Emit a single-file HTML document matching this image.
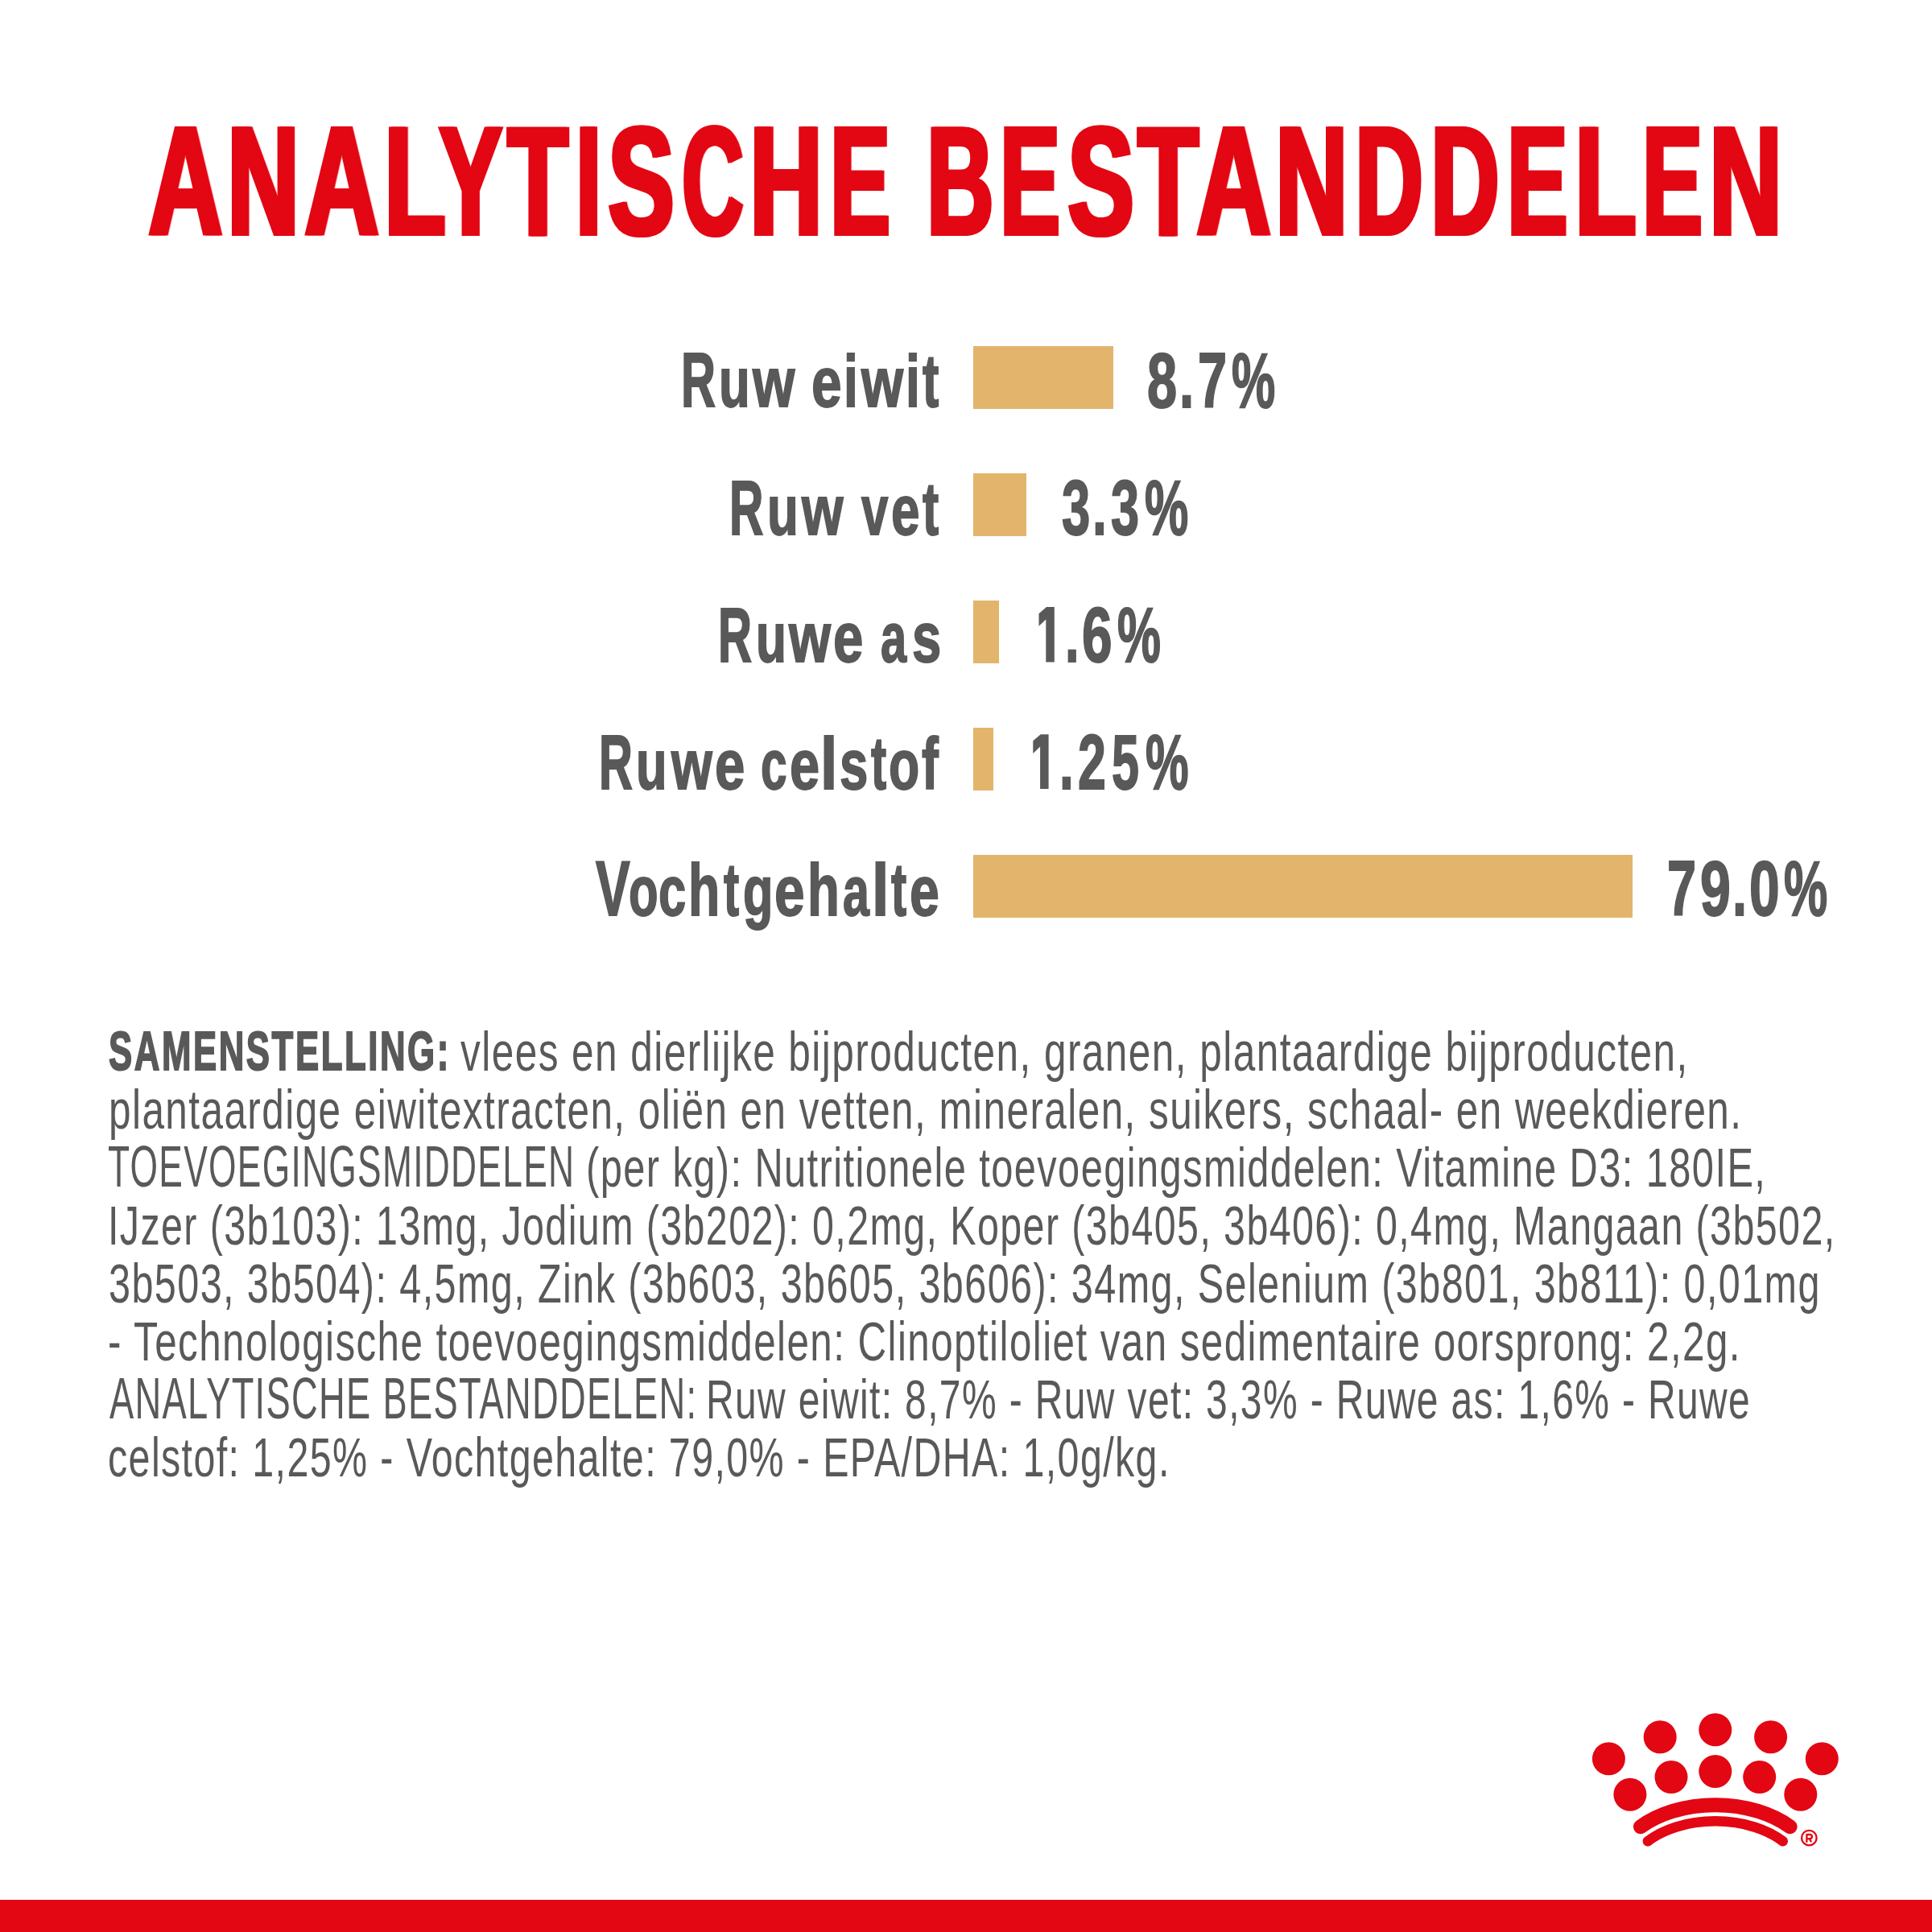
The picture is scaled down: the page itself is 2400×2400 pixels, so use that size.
<!DOCTYPE html>
<html>
<head>
<meta charset="utf-8">
<style>
html,body{margin:0;padding:0;background:#fff;}
body{width:2400px;height:2400px;position:relative;overflow:hidden;font-family:"Liberation Sans",sans-serif;}
.t{position:absolute;white-space:nowrap;transform-origin:0 0;line-height:1;}
.bar{position:absolute;background:#e2b46c;left:1209px;height:77.5px;}
.redbar{position:absolute;left:0;top:2360px;width:2400px;height:40px;background:#e30613;}
</style>
</head>
<body>
<div class="t" style="left:182.78px;top:128.50px;transform:scaleX(0.6612);color:#e30613;font-weight:bold;font-size:192px;-webkit-text-stroke:4px #e30613;filter:drop-shadow(5px 0 0 #e30613)">A</div>
<div class="t" style="left:281.34px;top:128.50px;transform:scaleX(0.6418);color:#e30613;font-weight:bold;font-size:192px;-webkit-text-stroke:4px #e30613;filter:drop-shadow(5px 0 0 #e30613)">N</div>
<div class="t" style="left:377.37px;top:128.50px;transform:scaleX(0.6626);color:#e30613;font-weight:bold;font-size:192px;-webkit-text-stroke:4px #e30613;filter:drop-shadow(5px 0 0 #e30613)">A</div>
<div class="t" style="left:475.87px;top:128.50px;transform:scaleX(0.6486);color:#e30613;font-weight:bold;font-size:192px;-webkit-text-stroke:4px #e30613;filter:drop-shadow(5px 0 0 #e30613)">L</div>
<div class="t" style="left:543.50px;top:128.50px;transform:scaleX(0.6113);color:#e30613;font-weight:bold;font-size:192px;-webkit-text-stroke:4px #e30613;filter:drop-shadow(5px 0 0 #e30613)">Y</div>
<div class="t" style="left:629.40px;top:128.50px;transform:scaleX(0.6410);color:#e30613;font-weight:bold;font-size:192px;-webkit-text-stroke:4px #e30613;filter:drop-shadow(5px 0 0 #e30613)">T</div>
<div class="t" style="left:713.52px;top:128.50px;transform:scaleX(0.5892);color:#e30613;font-weight:bold;font-size:192px;-webkit-text-stroke:4px #e30613;filter:drop-shadow(5px 0 0 #e30613)">I</div>
<div class="t" style="left:754.18px;top:128.50px;transform:scaleX(0.6392);color:#e30613;font-weight:bold;font-size:192px;-webkit-text-stroke:4px #e30613;filter:drop-shadow(5px 0 0 #e30613)">S</div>
<div class="t" style="left:845.50px;top:128.50px;transform:scaleX(0.5496);color:#e30613;font-weight:bold;font-size:192px;-webkit-text-stroke:4px #e30613;filter:drop-shadow(5px 0 0 #e30613)">C</div>
<div class="t" style="left:930.17px;top:128.50px;transform:scaleX(0.6484);color:#e30613;font-weight:bold;font-size:192px;-webkit-text-stroke:4px #e30613;filter:drop-shadow(5px 0 0 #e30613)">H</div>
<div class="t" style="left:1029.62px;top:128.50px;transform:scaleX(0.5803);color:#e30613;font-weight:bold;font-size:192px;-webkit-text-stroke:4px #e30613;filter:drop-shadow(5px 0 0 #e30613)">E</div>
<div class="t" style="left:1149.53px;top:128.50px;transform:scaleX(0.5968);color:#e30613;font-weight:bold;font-size:192px;-webkit-text-stroke:4px #e30613;filter:drop-shadow(5px 0 0 #e30613)">B</div>
<div class="t" style="left:1241.22px;top:128.50px;transform:scaleX(0.5803);color:#e30613;font-weight:bold;font-size:192px;-webkit-text-stroke:4px #e30613;filter:drop-shadow(5px 0 0 #e30613)">E</div>
<div class="t" style="left:1324.98px;top:128.50px;transform:scaleX(0.6408);color:#e30613;font-weight:bold;font-size:192px;-webkit-text-stroke:4px #e30613;filter:drop-shadow(5px 0 0 #e30613)">S</div>
<div class="t" style="left:1412.20px;top:128.50px;transform:scaleX(0.6418);color:#e30613;font-weight:bold;font-size:192px;-webkit-text-stroke:4px #e30613;filter:drop-shadow(5px 0 0 #e30613)">T</div>
<div class="t" style="left:1484.77px;top:128.50px;transform:scaleX(0.6626);color:#e30613;font-weight:bold;font-size:192px;-webkit-text-stroke:4px #e30613;filter:drop-shadow(5px 0 0 #e30613)">A</div>
<div class="t" style="left:1583.20px;top:128.50px;transform:scaleX(0.6451);color:#e30613;font-weight:bold;font-size:192px;-webkit-text-stroke:4px #e30613;filter:drop-shadow(5px 0 0 #e30613)">N</div>
<div class="t" style="left:1682.03px;top:128.50px;transform:scaleX(0.6063);color:#e30613;font-weight:bold;font-size:192px;-webkit-text-stroke:4px #e30613;filter:drop-shadow(5px 0 0 #e30613)">D</div>
<div class="t" style="left:1776.18px;top:128.50px;transform:scaleX(0.6110);color:#e30613;font-weight:bold;font-size:192px;-webkit-text-stroke:4px #e30613;filter:drop-shadow(5px 0 0 #e30613)">D</div>
<div class="t" style="left:1871.28px;top:128.50px;transform:scaleX(0.5838);color:#e30613;font-weight:bold;font-size:192px;-webkit-text-stroke:4px #e30613;filter:drop-shadow(5px 0 0 #e30613)">E</div>
<div class="t" style="left:1954.97px;top:128.50px;transform:scaleX(0.6486);color:#e30613;font-weight:bold;font-size:192px;-webkit-text-stroke:4px #e30613;filter:drop-shadow(5px 0 0 #e30613)">L</div>
<div class="t" style="left:2038.52px;top:128.50px;transform:scaleX(0.5803);color:#e30613;font-weight:bold;font-size:192px;-webkit-text-stroke:4px #e30613;filter:drop-shadow(5px 0 0 #e30613)">E</div>
<div class="t" style="left:2122.27px;top:128.50px;transform:scaleX(0.6484);color:#e30613;font-weight:bold;font-size:192px;-webkit-text-stroke:4px #e30613;filter:drop-shadow(5px 0 0 #e30613)">N</div>
<div class="t" style="left:846.10px;top:424.20px;transform:scale(0.6203,1.0029);transform-origin:0 81.00px;color:#595959;font-weight:bold;font-size:96px;-webkit-text-stroke:2.0px #595959">R</div>
<div class="t" style="left:893.00px;top:424.29px;transform:scale(0.6604,0.9057);transform-origin:0 81.00px;color:#595959;font-weight:bold;font-size:96px;-webkit-text-stroke:2.0px #595959">u</div>
<div class="t" style="left:934.90px;top:424.29px;transform:scale(0.7013,0.9057);transform-origin:0 81.00px;color:#595959;font-weight:bold;font-size:96px;-webkit-text-stroke:2.0px #595959">w</div>
<div class="t" style="left:1008.29px;top:424.29px;transform:scale(0.7042,0.9057);transform-origin:0 81.00px;color:#595959;font-weight:bold;font-size:96px;-webkit-text-stroke:2.0px #595959">e</div>
<div class="t" style="left:1048.10px;top:424.26px;transform:scale(0.6667,0.9444);transform-origin:0 81.00px;color:#595959;font-weight:bold;font-size:96px;-webkit-text-stroke:2.0px #595959">i</div>
<div class="t" style="left:1069.50px;top:424.29px;transform:scale(0.6974,0.9057);transform-origin:0 81.00px;color:#595959;font-weight:bold;font-size:96px;-webkit-text-stroke:2.0px #595959">w</div>
<div class="t" style="left:1125.20px;top:424.26px;transform:scale(0.6667,0.9444);transform-origin:0 81.00px;color:#595959;font-weight:bold;font-size:96px;-webkit-text-stroke:2.0px #595959">i</div>
<div class="t" style="left:1146.20px;top:424.23px;transform:scale(0.6344,0.9692);transform-origin:0 81.00px;color:#595959;font-weight:bold;font-size:96px;-webkit-text-stroke:2.0px #595959">t</div>
<div class="t" style="left:906.15px;top:582.50px;transform:scale(0.6109,1.0029);transform-origin:0 81.00px;color:#595959;font-weight:bold;font-size:96px;-webkit-text-stroke:2.0px #595959">R</div>
<div class="t" style="left:952.79px;top:582.59px;transform:scale(0.6625,0.9057);transform-origin:0 81.00px;color:#595959;font-weight:bold;font-size:96px;-webkit-text-stroke:2.0px #595959">u</div>
<div class="t" style="left:995.59px;top:582.59px;transform:scale(0.6896,0.9057);transform-origin:0 81.00px;color:#595959;font-weight:bold;font-size:96px;-webkit-text-stroke:2.0px #595959">w</div>
<div class="t" style="left:1070.42px;top:582.59px;transform:scale(0.6236,0.9057);transform-origin:0 81.00px;color:#595959;font-weight:bold;font-size:96px;-webkit-text-stroke:2.0px #595959">v</div>
<div class="t" style="left:1107.01px;top:582.59px;transform:scale(0.6646,0.9057);transform-origin:0 81.00px;color:#595959;font-weight:bold;font-size:96px;-webkit-text-stroke:2.0px #595959">e</div>
<div class="t" style="left:1145.80px;top:582.53px;transform:scale(0.6313,0.9692);transform-origin:0 81.00px;color:#595959;font-weight:bold;font-size:96px;-webkit-text-stroke:2.0px #595959">t</div>
<div class="t" style="left:891.77px;top:740.50px;transform:scale(0.6063,1.0029);transform-origin:0 81.00px;color:#595959;font-weight:bold;font-size:96px;-webkit-text-stroke:2.0px #595959">R</div>
<div class="t" style="left:938.56px;top:740.59px;transform:scale(0.6479,0.9057);transform-origin:0 81.00px;color:#595959;font-weight:bold;font-size:96px;-webkit-text-stroke:2.0px #595959">u</div>
<div class="t" style="left:980.10px;top:740.59px;transform:scale(0.6961,0.9057);transform-origin:0 81.00px;color:#595959;font-weight:bold;font-size:96px;-webkit-text-stroke:2.0px #595959">w</div>
<div class="t" style="left:1035.00px;top:740.59px;transform:scale(0.7000,0.9057);transform-origin:0 81.00px;color:#595959;font-weight:bold;font-size:96px;-webkit-text-stroke:2.0px #595959">e</div>
<div class="t" style="left:1093.80px;top:740.59px;transform:scale(0.6019,0.9057);transform-origin:0 81.00px;color:#595959;font-weight:bold;font-size:96px;-webkit-text-stroke:2.0px #595959">a</div>
<div class="t" style="left:1132.54px;top:740.59px;transform:scale(0.6792,0.9057);transform-origin:0 81.00px;color:#595959;font-weight:bold;font-size:96px;-webkit-text-stroke:2.0px #595959">s</div>
<div class="t" style="left:743.98px;top:898.50px;transform:scale(0.6047,1.0029);transform-origin:0 81.00px;color:#595959;font-weight:bold;font-size:96px;-webkit-text-stroke:2.0px #595959">R</div>
<div class="t" style="left:790.41px;top:898.59px;transform:scale(0.6583,0.9057);transform-origin:0 81.00px;color:#595959;font-weight:bold;font-size:96px;-webkit-text-stroke:2.0px #595959">u</div>
<div class="t" style="left:834.28px;top:898.59px;transform:scale(0.6792,0.9057);transform-origin:0 81.00px;color:#595959;font-weight:bold;font-size:96px;-webkit-text-stroke:2.0px #595959">w</div>
<div class="t" style="left:887.70px;top:898.59px;transform:scale(0.7000,0.9057);transform-origin:0 81.00px;color:#595959;font-weight:bold;font-size:96px;-webkit-text-stroke:2.0px #595959">e</div>
<div class="t" style="left:945.07px;top:898.59px;transform:scale(0.6102,0.9057);transform-origin:0 81.00px;color:#595959;font-weight:bold;font-size:96px;-webkit-text-stroke:2.0px #595959">c</div>
<div class="t" style="left:980.51px;top:898.59px;transform:scale(0.6958,0.9057);transform-origin:0 81.00px;color:#595959;font-weight:bold;font-size:96px;-webkit-text-stroke:2.0px #595959">e</div>
<div class="t" style="left:1019.30px;top:898.56px;transform:scale(0.8000,0.9444);transform-origin:0 81.00px;color:#595959;font-weight:bold;font-size:96px;-webkit-text-stroke:2.0px #595959">l</div>
<div class="t" style="left:1042.77px;top:898.59px;transform:scale(0.6625,0.9057);transform-origin:0 81.00px;color:#595959;font-weight:bold;font-size:96px;-webkit-text-stroke:2.0px #595959">s</div>
<div class="t" style="left:1081.60px;top:898.53px;transform:scale(0.6000,0.9692);transform-origin:0 81.00px;color:#595959;font-weight:bold;font-size:96px;-webkit-text-stroke:2.0px #595959">t</div>
<div class="t" style="left:1104.35px;top:898.59px;transform:scale(0.6509,0.9057);transform-origin:0 81.00px;color:#595959;font-weight:bold;font-size:96px;-webkit-text-stroke:2.0px #595959">o</div>
<div class="t" style="left:1145.45px;top:898.56px;transform:scale(0.6500,0.9444);transform-origin:0 81.00px;color:#595959;font-weight:bold;font-size:96px;-webkit-text-stroke:2.0px #595959">f</div>
<div class="t" style="left:739.80px;top:1056.20px;transform:scale(0.6656,1.0029);transform-origin:0 81.00px;color:#595959;font-weight:bold;font-size:96px;-webkit-text-stroke:2.0px #595959">V</div>
<div class="t" style="left:781.23px;top:1056.29px;transform:scale(0.6245,0.9057);transform-origin:0 81.00px;color:#595959;font-weight:bold;font-size:96px;-webkit-text-stroke:2.0px #595959">o</div>
<div class="t" style="left:817.78px;top:1056.29px;transform:scale(0.6408,0.9057);transform-origin:0 81.00px;color:#595959;font-weight:bold;font-size:96px;-webkit-text-stroke:2.0px #595959">c</div>
<div class="t" style="left:855.29px;top:1056.26px;transform:scale(0.6688,0.9444);transform-origin:0 81.00px;color:#595959;font-weight:bold;font-size:96px;-webkit-text-stroke:2.0px #595959">h</div>
<div class="t" style="left:898.60px;top:1056.23px;transform:scale(0.6000,0.9692);transform-origin:0 81.00px;color:#595959;font-weight:bold;font-size:96px;-webkit-text-stroke:2.0px #595959">t</div>
<div class="t" style="left:922.59px;top:1056.29px;transform:scale(0.6380,0.9057);transform-origin:0 81.00px;color:#595959;font-weight:bold;font-size:96px;-webkit-text-stroke:2.0px #595959">g</div>
<div class="t" style="left:961.99px;top:1056.29px;transform:scale(0.7042,0.9057);transform-origin:0 81.00px;color:#595959;font-weight:bold;font-size:96px;-webkit-text-stroke:2.0px #595959">e</div>
<div class="t" style="left:1002.62px;top:1056.26px;transform:scale(0.6792,0.9444);transform-origin:0 81.00px;color:#595959;font-weight:bold;font-size:96px;-webkit-text-stroke:2.0px #595959">h</div>
<div class="t" style="left:1046.67px;top:1056.29px;transform:scale(0.6151,0.9057);transform-origin:0 81.00px;color:#595959;font-weight:bold;font-size:96px;-webkit-text-stroke:2.0px #595959">a</div>
<div class="t" style="left:1083.40px;top:1056.26px;transform:scale(0.8000,0.9444);transform-origin:0 81.00px;color:#595959;font-weight:bold;font-size:96px;-webkit-text-stroke:2.0px #595959">l</div>
<div class="t" style="left:1106.85px;top:1056.23px;transform:scale(0.6000,0.9692);transform-origin:0 81.00px;color:#595959;font-weight:bold;font-size:96px;-webkit-text-stroke:2.0px #595959">t</div>
<div class="t" style="left:1130.43px;top:1056.29px;transform:scale(0.6896,0.9057);transform-origin:0 81.00px;color:#595959;font-weight:bold;font-size:96px;-webkit-text-stroke:2.0px #595959">e</div>
<div class="t" style="left:1425.15px;top:421.83px;transform:scale(0.6745,0.9714);transform-origin:0 84.00px;color:#595959;font-weight:bold;font-size:99px;-webkit-text-stroke:2.0px #595959">8</div>
<div class="t" style="left:1465.23px;top:421.83px;transform:scale(0.6625,0.9714);transform-origin:0 84.00px;color:#595959;font-weight:bold;font-size:99px;-webkit-text-stroke:2.0px #595959">.</div>
<div class="t" style="left:1487.53px;top:421.83px;transform:scale(0.6551,0.9714);transform-origin:0 84.00px;color:#595959;font-weight:bold;font-size:99px;-webkit-text-stroke:2.0px #595959">7</div>
<div class="t" style="left:1529.58px;top:421.83px;transform:scale(0.6165,0.9714);transform-origin:0 84.00px;color:#595959;font-weight:bold;font-size:99px;-webkit-text-stroke:2.0px #595959">%</div>
<div class="t" style="left:1318.56px;top:579.83px;transform:scale(0.6412,0.9714);transform-origin:0 84.00px;color:#595959;font-weight:bold;font-size:99px;-webkit-text-stroke:2.0px #595959">3</div>
<div class="t" style="left:1357.30px;top:579.83px;transform:scale(0.6500,0.9714);transform-origin:0 84.00px;color:#595959;font-weight:bold;font-size:99px;-webkit-text-stroke:2.0px #595959">.</div>
<div class="t" style="left:1379.96px;top:579.83px;transform:scale(0.6373,0.9714);transform-origin:0 84.00px;color:#595959;font-weight:bold;font-size:99px;-webkit-text-stroke:2.0px #595959">3</div>
<div class="t" style="left:1421.78px;top:579.83px;transform:scale(0.6176,0.9714);transform-origin:0 84.00px;color:#595959;font-weight:bold;font-size:99px;-webkit-text-stroke:2.0px #595959">%</div>
<div class="t" style="left:1323.38px;top:738.03px;transform:scale(0.6375,0.9714);transform-origin:0 84.00px;color:#595959;font-weight:bold;font-size:99px;-webkit-text-stroke:2.0px #595959">.</div>
<div class="t" style="left:1344.15px;top:738.03px;transform:scale(0.6837,0.9714);transform-origin:0 84.00px;color:#595959;font-weight:bold;font-size:99px;-webkit-text-stroke:2.0px #595959">6</div>
<div class="t" style="left:1387.89px;top:738.03px;transform:scale(0.6129,0.9714);transform-origin:0 84.00px;color:#595959;font-weight:bold;font-size:99px;-webkit-text-stroke:2.0px #595959">%</div>
<div class="t" style="left:1316.24px;top:895.53px;transform:scale(0.6438,0.9714);transform-origin:0 84.00px;color:#595959;font-weight:bold;font-size:99px;-webkit-text-stroke:2.0px #595959">.</div>
<div class="t" style="left:1338.73px;top:895.53px;transform:scale(0.6340,0.9714);transform-origin:0 84.00px;color:#595959;font-weight:bold;font-size:99px;-webkit-text-stroke:2.0px #595959">2</div>
<div class="t" style="left:1380.96px;top:895.53px;transform:scale(0.6176,0.9714);transform-origin:0 84.00px;color:#595959;font-weight:bold;font-size:99px;-webkit-text-stroke:2.0px #595959">5</div>
<div class="t" style="left:1422.59px;top:895.53px;transform:scale(0.6094,0.9714);transform-origin:0 84.00px;color:#595959;font-weight:bold;font-size:99px;-webkit-text-stroke:2.0px #595959">%</div>
<div class="t" style="left:2070.93px;top:1053.33px;transform:scale(0.6551,0.9714);transform-origin:0 84.00px;color:#595959;font-weight:bold;font-size:99px;-webkit-text-stroke:2.0px #595959">7</div>
<div class="t" style="left:2112.12px;top:1053.33px;transform:scale(0.6880,0.9714);transform-origin:0 84.00px;color:#595959;font-weight:bold;font-size:99px;-webkit-text-stroke:2.0px #595959">9</div>
<div class="t" style="left:2152.06px;top:1053.33px;transform:scale(0.6562,0.9714);transform-origin:0 84.00px;color:#595959;font-weight:bold;font-size:99px;-webkit-text-stroke:2.0px #595959">.</div>
<div class="t" style="left:2172.74px;top:1053.33px;transform:scale(0.6857,0.9714);transform-origin:0 84.00px;color:#595959;font-weight:bold;font-size:99px;-webkit-text-stroke:2.0px #595959">0</div>
<div class="t" style="left:2216.48px;top:1053.33px;transform:scale(0.6165,0.9714);transform-origin:0 84.00px;color:#595959;font-weight:bold;font-size:99px;-webkit-text-stroke:2.0px #595959">%</div>
<div class="t" style="left:135.37px;top:1271.00px;transform:scaleX(0.6347);color:#595959;font-weight:bold;font-size:69px;-webkit-text-stroke:2.0px #595959;letter-spacing:4px;">SAMENSTELLING:</div>
<div class="t" style="left:572.40px;top:1272.00px;transform:scaleX(0.7181);color:#595959;font-size:69px;letter-spacing:2px;">vlees en dierlijke bijproducten, granen, plantaardige bijproducten,</div>
<div class="t" style="left:135.43px;top:1344.00px;transform:scaleX(0.7171);color:#595959;font-size:69px;letter-spacing:2px;">plantaardige eiwitextracten, oliën en vetten, mineralen, suikers, schaal- en weekdieren.</div>
<div class="t" style="left:133.91px;top:1416.00px;transform:scale(0.6425,1.0426);transform-origin:0 58.00px;color:#595959;font-size:69px;letter-spacing:2px;">TOEVOEGINGSMIDDELEN</div>
<div class="t" style="left:728.37px;top:1416.00px;transform:scaleX(0.7073);color:#595959;font-size:69px;letter-spacing:2px;">(per kg): Nutritionele toevoegingsmiddelen: Vitamine D3: 180IE,</div>
<div class="t" style="left:133.89px;top:1488.00px;transform:scaleX(0.7014);color:#595959;font-size:69px;letter-spacing:2px;">IJzer (3b103): 13mg, Jodium (3b202): 0,2mg, Koper (3b405, 3b406): 0,4mg, Mangaan (3b502,</div>
<div class="t" style="left:135.39px;top:1560.00px;transform:scaleX(0.7036);color:#595959;font-size:69px;letter-spacing:2px;">3b503, 3b504): 4,5mg, Zink (3b603, 3b605, 3b606): 34mg, Selenium (3b801, 3b811): 0,01mg</div>
<div class="t" style="left:133.85px;top:1632.00px;transform:scaleX(0.7153);color:#595959;font-size:69px;letter-spacing:2px;">- Technologische toevoegingsmiddelen: Clinoptiloliet van sedimentaire oorsprong: 2,2g.</div>
<div class="t" style="left:135.50px;top:1704.00px;transform:scale(0.6561,1.0426);transform-origin:0 58.00px;color:#595959;font-size:69px;letter-spacing:2px;">ANALYTISCHE BESTANDDELEN:</div>
<div class="t" style="left:877.43px;top:1704.00px;transform:scaleX(0.6949);color:#595959;font-size:69px;letter-spacing:2px;">Ruw eiwit: 8,7% - Ruw vet: 3,3% - Ruwe as: 1,6% - Ruwe</div>
<div class="t" style="left:133.90px;top:1776.00px;transform:scaleX(0.7010);color:#595959;font-size:69px;letter-spacing:2px;">celstof: 1,25% - Vochtgehalte: 79,0% - EPA/DHA: 1,0g/kg.</div>
<div class="bar" style="top:430px;width:174px;"></div>
<div class="bar" style="top:588px;width:66px;"></div>
<div class="bar" style="top:746px;width:32px;"></div>
<div class="bar" style="top:904px;width:25px;"></div>
<div class="bar" style="top:1062px;width:819px;"></div>
<svg style="position:absolute;left:0;top:0" width="2400" height="2400" viewBox="0 0 2400 2400">
<g fill="#595959"><polygon points="1300.0,754.1 1309.8,754.1 1309.8,822.6 1299.3,822.6 1299.3,769.4 1290.5,777.8 1290.5,762.2"/><polygon points="1292.8,912.2 1302.6,912.2 1302.6,980.0 1292.1,980.0 1292.1,927.5 1283.3,935.9 1283.3,920.3"/></g>
<g fill="#e30613">
<circle cx="1998.4" cy="2184.8" r="20.5"/>
<circle cx="2062.2" cy="2157.8" r="20.5"/>
<circle cx="2130.8" cy="2148.8" r="20.5"/>
<circle cx="2199.6" cy="2157.8" r="20.5"/>
<circle cx="2263.3" cy="2184.8" r="20.5"/>
<circle cx="2024.9" cy="2229.2" r="20.5"/>
<circle cx="2076" cy="2207.5" r="20.5"/>
<circle cx="2130.8" cy="2200.5" r="20.5"/>
<circle cx="2185.7" cy="2207.5" r="20.5"/>
<circle cx="2236.8" cy="2229.2" r="20.5"/>
</g>
<g fill="none" stroke="#e30613" stroke-linecap="round">
<path d="M2038,2269.2 A124.5,81.1 0 0 1 2223.6,2269.2" stroke-width="18"/>
<path d="M2046.9,2287.3 A105.6,63.6 0 0 1 2214.7,2287.3" stroke-width="12.6"/>
<circle cx="2247.35" cy="2283.05" r="9.25" stroke-width="2.3"/>
<path d="M2244.4,2288.7 V2279 H2248.3 A2.6,2.6 0 0 1 2248.3,2284.2 H2244.4 M2247.6,2284.2 L2250.2,2288.2" stroke-width="2.3" stroke-linecap="butt" stroke-linejoin="round"/>
</g>
</svg>
<div class="redbar"></div>

</body>
</html>
